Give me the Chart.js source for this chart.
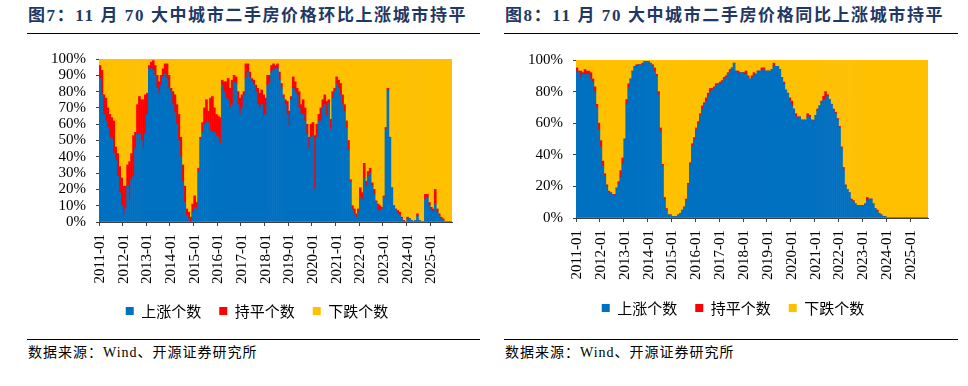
<!DOCTYPE html>
<html lang="zh">
<head>
<meta charset="UTF-8">
<title>70大中城市二手房价格</title>
<script src="https://cdn.jsdelivr.net/npm/chart.js"></script>
<style>
  body { margin: 0; background: #fff; }
  .painel { position: absolute; top: 0; width: 484px; height: 386px; }
  .titulo { position: absolute; top: 6px; font: bold 17px "Liberation Serif", "Noto Sans CJK SC", serif; color: #1F3864; letter-spacing: 1.6px; white-space: nowrap; line-height: 20px; }
  .linha { position: absolute; height: 0; border-top: 1.5px solid #000; }
  .fonte { position: absolute; top: 345px; font: 14px "Liberation Serif", "Noto Sans CJK SC", serif; letter-spacing: 1px; white-space: nowrap; line-height: 16px; color: #000; }
  canvas { position: absolute; top: 40px; left: 0; }
</style>
</head>
<body>
  <div class="painel" style="left:0">
    <div class="titulo" style="left:28px">图7：11 月 70 大中城市二手房价格环比上涨城市持平</div>
    <div class="linha" style="left:27px;width:453px;top:33px"></div>
    <canvas id="grafico7" width="484" height="295"></canvas>
    <div class="linha" style="left:27px;width:453px;top:339px"></div>
    <div class="fonte" style="left:28px">数据来源：Wind、开源证券研究所</div>
  </div>
  <div class="painel" style="left:484px">
    <div class="titulo" style="left:21px">图8：11 月 70 大中城市二手房价格同比上涨城市持平</div>
    <div class="linha" style="left:20px;width:454px;top:33px"></div>
    <canvas id="grafico8" width="484" height="295"></canvas>
    <div class="linha" style="left:20px;width:454px;top:339px"></div>
    <div class="fonte" style="left:21px">数据来源：Wind、开源证券研究所</div>
  </div>

<script>
  // months 2011-01 .. 2025-11 (环比) and 2011-01 .. 2025-09 (同比)
  var mesesHb = [];
  var mesesTb = [];
  for (var ano = 2011; ano <= 2025; ano++) {
    for (var m = 1; m <= 12; m++) {
      var rotulo = ano + "-" + (m < 10 ? "0" + m : m);
      if (ano < 2025 || m <= 11) mesesHb.push(rotulo);
      if (ano < 2025 || m <= 9) mesesTb.push(rotulo);
    }
  }

  // 环比：share of the 70 cities (%), one row per year
  var subiuHb = [
    88, 78, 66, 62, 58, 52, 51, 42, 38, 28, 18, 10,
    4, 8, 22, 14, 26, 28, 45, 54, 54, 50, 45, 54,
    66, 94, 94, 93, 90, 82, 79, 84, 89, 91, 88, 82,
    80, 72, 67, 60, 50, 40, 25, 12, 4, 2, 0, 6,
    9, 8, 31, 51, 55, 60, 61, 61, 56, 55, 55, 53,
    52, 48, 84, 80, 76, 75, 70, 72, 86, 85, 72, 66,
    70, 78, 88, 92, 88, 86, 84, 80, 72, 70, 72, 65,
    66, 84, 85, 92, 93, 94, 94, 87, 82, 76, 72, 66,
    59, 75, 82, 80, 78, 70, 66, 66, 62, 54, 45, 52,
    53, 20, 52, 62, 62, 70, 72, 65, 73, 57, 76, 80,
    85, 82, 78, 72, 68, 58, 44, 25, 8, 5, 3, 6,
    15, 14, 27, 22, 28, 30, 22, 17, 12, 7, 7, 8,
    15, 57, 81, 52, 21, 10, 7, 5, 4, 2, 0, 0,
    2, 2, 1, 0, 1, 4, 1, 0, 0, 14, 15, 10,
    7, 6, 11, 6, 4, 2, 1, 0, 0, 0, 0
  ];
  var estavelHb = [
    8, 15, 12, 14, 12, 14, 13, 20, 8, 14, 16, 17,
    18, 14, 13, 23, 16, 25, 10, 18, 23, 25, 30, 24,
    13, 2, 4, 6, 6, 8, 7, 6, 5, 6, 9, 8,
    2, 8, 11, 12, 16, 12, 10, 10, 4, 4, 3, 5,
    7, 4, 2, 1, 6, 10, 14, 7, 20, 22, 15, 13,
    13, 16, 3, 6, 10, 13, 12, 15, 4, 4, 8, 10,
    8, 2, 9, 5, 4, 2, 3, 4, 10, 9, 9, 13,
    10, 6, 5, 4, 4, 2, 3, 5, 3, 2, 3, 8,
    9, 2, 7, 6, 4, 10, 6, 9, 8, 6, 7, 8,
    8, 33, 8, 4, 8, 5, 6, 9, 2, 6, 4, 2,
    4, 5, 7, 6, 4, 4, 6, 1, 2, 3, 2, 2,
    6, 4, 9, 3, 3, 3, 2, 3, 1, 4, 3, 1,
    1, 1, 1, 0, 0, 0, 1, 2, 2, 1, 1, 0,
    1, 0, 0, 0, 0, 1, 0, 0, 0, 3, 2, 2,
    2, 2, 9, 2, 1, 1, 1, 0, 0, 0, 0
  ];
  var caiuHb = [
    4, 7, 22, 24, 30, 34, 36, 38, 54, 58, 66, 73,
    78, 78, 65, 63, 58, 47, 45, 28, 23, 25, 25, 22,
    21, 4, 2, 1, 4, 10, 14, 10, 6, 3, 3, 10,
    18, 20, 22, 28, 34, 48, 65, 78, 92, 94, 97, 89,
    84, 88, 67, 48, 39, 30, 25, 32, 24, 23, 30, 34,
    35, 36, 13, 14, 14, 12, 18, 13, 10, 11, 20, 24,
    22, 20, 3, 3, 8, 12, 13, 16, 18, 21, 19, 22,
    24, 10, 10, 4, 3, 4, 3, 8, 15, 22, 25, 26,
    32, 23, 11, 14, 18, 20, 28, 25, 30, 40, 48, 40,
    39, 47, 40, 34, 30, 25, 22, 26, 25, 37, 20, 18,
    11, 13, 15, 22, 28, 38, 50, 74, 90, 92, 95, 92,
    79, 82, 64, 75, 69, 67, 76, 80, 87, 89, 90, 91,
    84, 42, 18, 48, 79, 90, 92, 93, 94, 97, 99, 100,
    97, 98, 99, 100, 99, 95, 99, 100, 100, 83, 83, 88,
    91, 92, 80, 92, 95, 97, 98, 100, 100, 100, 100
  ];

  // 同比
  var subiuTb = [
    93, 92, 89, 91, 91, 91, 91, 88, 86, 80, 70, 56,
    45, 33, 27, 20, 16, 16, 15, 14, 19, 22, 26, 34,
    50, 72, 82, 88, 93, 96, 96, 97, 97, 97, 99, 99,
    99, 98, 96, 93, 90, 78, 55, 33, 12, 5, 2, 2,
    1, 1, 1, 2, 3, 5, 7, 11, 21, 34, 46, 50,
    56, 60, 65, 69, 72, 74, 77, 80, 81, 82, 84, 85,
    85, 86, 88, 89, 91, 93, 95, 98, 93, 91, 92, 92,
    91, 91, 89, 88, 89, 90, 91, 93, 93, 94, 94, 93,
    93, 93, 94, 96, 96, 96, 94, 89, 85, 81, 79, 74,
    71, 69, 64, 63, 64, 62, 62, 62, 64, 64, 62, 61,
    65, 68, 71, 73, 75, 75, 77, 75, 72, 68, 66, 62,
    57, 44, 31, 20, 18, 16, 11, 10, 9, 8, 8, 8,
    8, 9, 11, 12, 12, 9, 6, 4, 3, 2, 1, 1,
    0, 0, 0, 0, 0, 0, 0, 0, 0, 0, 0, 0,
    0, 0, 0, 0, 0, 0, 0, 0, 0
  ];
  var estavelTb = [
    2, 1, 4, 1, 3, 2, 2, 4, 2, 3, 2, 4,
    4, 3, 1, 1, 1, 0, 0, 1, 0, 1, 4, 4,
    0, 3, 3, 0, 0, 0, 1, 0, 0, 1, 0, 0,
    0, 0, 1, 2, 1, 2, 2, 1, 1, 1, 0, 0,
    0, 0, 0, 0, 0, 0, 0, 1, 1, 1, 1, 1,
    1, 1, 1, 2, 1, 2, 2, 2, 1, 1, 1, 0,
    1, 1, 1, 1, 1, 1, 0, 0, 0, 2, 0, 0,
    1, 2, 1, 0, 1, 2, 0, 0, 0, 1, 1, 0,
    0, 0, 0, 2, 0, 0, 0, 0, 1, 0, 0, 2,
    3, 0, 2, 1, 0, 0, 0, 0, 2, 1, 0, 1,
    0, 1, 0, 1, 2, 5, 1, 0, 0, 1, 1, 1,
    1, 1, 1, 1, 0, 0, 1, 1, 0, 0, 0, 0,
    0, 0, 2, 0, 0, 0, 0, 1, 0, 0, 0, 0,
    0, 0, 0, 0, 0, 0, 0, 0, 0, 0, 0, 0,
    0, 0, 0, 0, 0, 0, 0, 0, 0
  ];
  var caiuTb = [
    5, 7, 7, 8, 6, 7, 7, 8, 12, 17, 28, 40,
    51, 64, 72, 79, 83, 84, 85, 85, 81, 77, 70, 62,
    50, 25, 15, 12, 7, 4, 3, 3, 3, 2, 1, 1,
    1, 2, 3, 5, 9, 20, 43, 66, 87, 94, 98, 98,
    99, 99, 99, 98, 97, 95, 93, 88, 78, 65, 53, 49,
    43, 39, 34, 29, 27, 24, 21, 18, 18, 17, 15, 15,
    14, 13, 11, 10, 8, 6, 5, 2, 7, 7, 8, 8,
    8, 7, 10, 12, 10, 8, 9, 7, 7, 5, 5, 7,
    7, 7, 6, 2, 4, 4, 6, 11, 14, 19, 21, 24,
    26, 31, 34, 36, 36, 38, 38, 38, 34, 35, 38, 38,
    35, 31, 29, 26, 23, 20, 22, 25, 28, 31, 33, 37,
    42, 55, 68, 79, 82, 84, 88, 89, 91, 92, 92, 92,
    92, 91, 87, 88, 88, 91, 94, 95, 97, 98, 99, 99,
    100, 100, 100, 100, 100, 100, 100, 100, 100, 100, 100, 100,
    100, 100, 100, 100, 100, 100, 100, 100, 100
  ];

  var corEixo = "#404040";
  var fonteNum = { family: "Liberation Serif", size: 15 };

  // legend sits centred under the plot area, not under the whole canvas
  var moverLegenda = {
    id: "moverLegenda",
    afterLayout: function (chart, args, opts) {
      chart.legend.left += opts.dx;
      chart.legend.right += opts.dx;
    }
  };

  function criarGrafico(id, meses, subiu, estavel, caiu, conf) {
    return new Chart(document.getElementById(id), {
      type: "bar",
      data: {
        labels: meses,
        datasets: [
          { label: "上涨个数", data: subiu, backgroundColor: "#0070C0" },
          { label: "持平个数", data: estavel, backgroundColor: "#FF0000" },
          { label: "下跌个数", data: caiu, backgroundColor: "#FFC000" }
        ]
      },
      plugins: [moverLegenda],
      options: {
        responsive: false,
        animation: false,
        datasets: { bar: { barPercentage: 1, categoryPercentage: 1, borderWidth: 0 } },
        layout: { padding: { left: 0, right: conf.padR, top: conf.padTop, bottom: conf.padBottom } },
        plugins: {
          tooltip: { enabled: false },
          moverLegenda: { dx: conf.dx },
          legend: {
            position: "bottom",
            labels: {
              boxWidth: 8,
              boxHeight: 8,
              padding: 18,
              color: "#000",
              font: { family: "Noto Sans CJK SC", size: 15 }
            }
          }
        },
        scales: {
          x: {
            stacked: true,
            grid: {
              offset: true,
              drawOnChartArea: false,
              tickLength: 4,
              color: function (ctx) {
                var r = meses[ctx.index];
                return r && r.slice(5) == "01" ? corEixo : "rgba(0,0,0,0)";
              }
            },
            border: { color: corEixo },
            ticks: {
              autoSkip: false,
              maxRotation: 90,
              minRotation: 90,
              padding: 8,
              color: "#000",
              font: fonteNum,
              callback: function (valor, i) {
                return meses[i].slice(5) == "01" ? meses[i] : "";
              }
            },
            afterFit: function (eixo) { eixo.height = conf.xHeight; }
          },
          y: {
            stacked: true,
            min: 0,
            max: 100,
            grid: { drawOnChartArea: false, tickLength: 3, color: corEixo },
            border: { color: corEixo },
            ticks: {
              stepSize: conf.passo,
              autoSkip: false,
              padding: 10,
              color: "#000",
              font: fonteNum,
              callback: function (v) { return v + "%"; }
            },
            afterFit: function (eixo) { eixo.width = conf.yWidth; }
          }
        }
      }
    });
  }

  var grafico7 = criarGrafico("grafico7", mesesHb, subiuHb, estavelHb, caiuHb,
    { padR: 32, padTop: 15, padBottom: 6.5, yWidth: 99, xHeight: 63.5, passo: 10, dx: 31 });
  var grafico8 = criarGrafico("grafico8", mesesTb, subiuTb, estavelTb, caiuTb,
    { padR: 40, padTop: 20, padBottom: 9.5, yWidth: 92, xHeight: 64.5, passo: 20, dx: 27 });
</script>
</body>
</html>
